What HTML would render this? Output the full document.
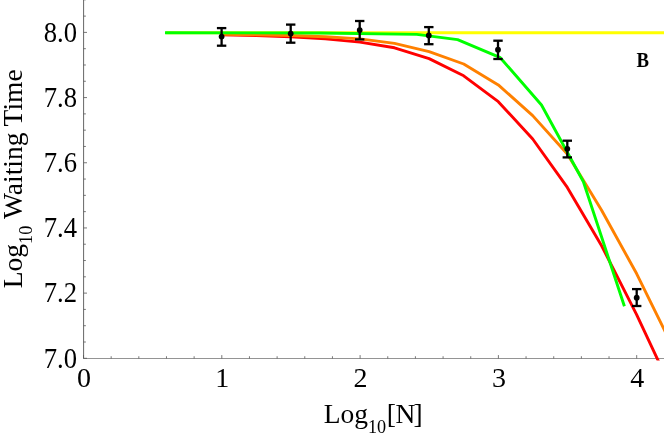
<!DOCTYPE html>
<html><head><meta charset="utf-8">
<style>
html,body{margin:0;padding:0;background:#fff;}
body{width:664px;height:438px;overflow:hidden;}
svg{display:block;will-change:transform;}
text{font-family:"Liberation Serif",serif;fill:#000;}
</style></head><body>
<svg width="664" height="438" viewBox="0 0 664 438">
<rect width="664" height="438" fill="#fff"/>
<g stroke="#555" stroke-width="0.9" fill="none">
<line x1="83.6" y1="0" x2="83.6" y2="358.5"/>
<line x1="83.15" y1="358.5" x2="664" y2="358.5" stroke="#888"/>
</g>
<g stroke="#555" stroke-width="0.8" fill="none">
<line x1="83.5" x2="83.5" y1="358.5" y2="355.1"/>
<line x1="111.16" x2="111.16" y1="358.5" y2="356.25"/>
<line x1="138.82" x2="138.82" y1="358.5" y2="356.25"/>
<line x1="166.48" x2="166.48" y1="358.5" y2="356.25"/>
<line x1="194.14" x2="194.14" y1="358.5" y2="356.25"/>
<line x1="221.8" x2="221.8" y1="358.5" y2="355.1"/>
<line x1="249.46" x2="249.46" y1="358.5" y2="356.25"/>
<line x1="277.12" x2="277.12" y1="358.5" y2="356.25"/>
<line x1="304.78" x2="304.78" y1="358.5" y2="356.25"/>
<line x1="332.44" x2="332.44" y1="358.5" y2="356.25"/>
<line x1="360.1" x2="360.1" y1="358.5" y2="355.1"/>
<line x1="387.76" x2="387.76" y1="358.5" y2="356.25"/>
<line x1="415.42" x2="415.42" y1="358.5" y2="356.25"/>
<line x1="443.08" x2="443.08" y1="358.5" y2="356.25"/>
<line x1="470.74" x2="470.74" y1="358.5" y2="356.25"/>
<line x1="498.4" x2="498.4" y1="358.5" y2="355.1"/>
<line x1="526.06" x2="526.06" y1="358.5" y2="356.25"/>
<line x1="553.72" x2="553.72" y1="358.5" y2="356.25"/>
<line x1="581.38" x2="581.38" y1="358.5" y2="356.25"/>
<line x1="609.04" x2="609.04" y1="358.5" y2="356.25"/>
<line x1="636.7" x2="636.7" y1="358.5" y2="355.1"/>
<line y1="-0.19" y2="-0.19" x1="83.6" x2="85.85"/>
<line y1="16.11" y2="16.11" x1="83.6" x2="85.85"/>
<line y1="32.4" y2="32.4" x1="83.6" x2="87"/>
<line y1="48.69" y2="48.69" x1="83.6" x2="85.85"/>
<line y1="64.99" y2="64.99" x1="83.6" x2="85.85"/>
<line y1="81.28" y2="81.28" x1="83.6" x2="85.85"/>
<line y1="97.58" y2="97.58" x1="83.6" x2="87"/>
<line y1="113.88" y2="113.88" x1="83.6" x2="85.85"/>
<line y1="130.17" y2="130.17" x1="83.6" x2="85.85"/>
<line y1="146.46" y2="146.46" x1="83.6" x2="85.85"/>
<line y1="162.76" y2="162.76" x1="83.6" x2="87"/>
<line y1="179.05" y2="179.05" x1="83.6" x2="85.85"/>
<line y1="195.35" y2="195.35" x1="83.6" x2="85.85"/>
<line y1="211.64" y2="211.64" x1="83.6" x2="85.85"/>
<line y1="227.94" y2="227.94" x1="83.6" x2="87"/>
<line y1="244.23" y2="244.23" x1="83.6" x2="85.85"/>
<line y1="260.53" y2="260.53" x1="83.6" x2="85.85"/>
<line y1="276.82" y2="276.82" x1="83.6" x2="85.85"/>
<line y1="293.12" y2="293.12" x1="83.6" x2="87"/>
<line y1="309.41" y2="309.41" x1="83.6" x2="85.85"/>
<line y1="325.71" y2="325.71" x1="83.6" x2="85.85"/>
<line y1="342" y2="342" x1="83.6" x2="85.85"/>
<line y1="358.3" y2="358.3" x1="83.6" x2="87"/>
</g>
<clipPath id="c"><rect x="0" y="0" width="664" height="360.4"/></clipPath>
<g fill="none" stroke-width="2.9" stroke-linejoin="round" stroke-linecap="butt" clip-path="url(#c)">
<polyline stroke="#ffff00" points="166,32.8 670,32.8"/>
<polyline stroke="#ff0000" points="221.6,34.8 256.2,35.6 290.7,36.8 325.3,38.9 359.9,42.1 394.5,47.8 429.1,58.6 463.7,75.8 498.3,101.7 532.7,139 567.3,187.4 601.6,245.8 636.5,314.3 660.7,366"/>
<polyline stroke="#ff8000" points="221.6,34.2 256.2,34.7 290.7,35.5 325.3,36.8 359.9,38.9 394.5,43.4 429.1,51.6 463.7,64 498.3,84.9 532.7,115.6 567.3,154 601.6,210.2 636.7,273.8 670,341.5"/>
<polyline stroke="#00ff00" points="165,32.8 320,32.95 416.7,34.4 457.6,39.6 500.3,57.7 541.5,105 583.4,181.7 624.4,306.3"/>
</g>
<g stroke="#000" stroke-width="2.3" fill="#000">
<line x1="221.6" x2="221.6" y1="28.1" y2="45.7"/>
<line x1="216.9" x2="226.3" y1="28.1" y2="28.1"/>
<line x1="216.9" x2="226.3" y1="45.7" y2="45.7"/>
<circle cx="221.6" cy="36.6" r="2.9" stroke="none"/>
<line x1="290.7" x2="290.7" y1="24.6" y2="42.7"/>
<line x1="286" x2="295.4" y1="24.6" y2="24.6"/>
<line x1="286" x2="295.4" y1="42.7" y2="42.7"/>
<circle cx="290.7" cy="33.6" r="2.9" stroke="none"/>
<line x1="359.7" x2="359.7" y1="21" y2="39.4"/>
<line x1="355" x2="364.4" y1="21" y2="21"/>
<line x1="355" x2="364.4" y1="39.4" y2="39.4"/>
<circle cx="359.7" cy="30.1" r="2.9" stroke="none"/>
<line x1="428.8" x2="428.8" y1="27.1" y2="44.2"/>
<line x1="424.1" x2="433.5" y1="27.1" y2="27.1"/>
<line x1="424.1" x2="433.5" y1="44.2" y2="44.2"/>
<circle cx="428.8" cy="35.4" r="2.9" stroke="none"/>
<line x1="498" x2="498" y1="40.7" y2="59"/>
<line x1="493.3" x2="502.7" y1="40.7" y2="40.7"/>
<line x1="493.3" x2="502.7" y1="59" y2="59"/>
<circle cx="498" cy="49.7" r="2.9" stroke="none"/>
<line x1="567.3" x2="567.3" y1="140.7" y2="157.4"/>
<line x1="562.6" x2="572" y1="140.7" y2="140.7"/>
<line x1="562.6" x2="572" y1="157.4" y2="157.4"/>
<circle cx="567.3" cy="148.8" r="2.9" stroke="none"/>
<line x1="636.7" x2="636.7" y1="289.1" y2="306"/>
<line x1="632" x2="641.4" y1="289.1" y2="289.1"/>
<line x1="632" x2="641.4" y1="306" y2="306"/>
<circle cx="636.7" cy="297.7" r="2.9" stroke="none"/>
</g>
<g font-size="28">
<text x="84" y="387.3" text-anchor="middle">0</text>
<text x="222.3" y="387.3" text-anchor="middle">1</text>
<text x="360.6" y="387.3" text-anchor="middle">2</text>
<text x="498.9" y="387.3" text-anchor="middle">3</text>
<text x="637.2" y="387.3" text-anchor="middle">4</text>
<text x="77" y="41.65" font-size="28.6" text-anchor="end" textLength="33.3" lengthAdjust="spacingAndGlyphs">8.0</text>
<text x="77" y="106.83" font-size="28.6" text-anchor="end" textLength="33.3" lengthAdjust="spacingAndGlyphs">7.8</text>
<text x="77" y="172.01" font-size="28.6" text-anchor="end" textLength="33.3" lengthAdjust="spacingAndGlyphs">7.6</text>
<text x="77" y="237.19" font-size="28.6" text-anchor="end" textLength="33.3" lengthAdjust="spacingAndGlyphs">7.4</text>
<text x="77" y="302.37" font-size="28.6" text-anchor="end" textLength="33.3" lengthAdjust="spacingAndGlyphs">7.2</text>
<text x="77" y="367.55" font-size="28.6" text-anchor="end" textLength="33.3" lengthAdjust="spacingAndGlyphs">7.0</text>
</g>
<text x="636.4" y="66.5" font-size="20" font-weight="bold" textLength="12.5" lengthAdjust="spacingAndGlyphs">B</text>
<text x="323.7" y="423.1" font-size="27.5">Log<tspan font-size="18.2" dy="10.2">10</tspan><tspan dy="-10.2" x="386.8 395.4 413.6">[N]</tspan></text>
<text transform="translate(22,288.2) rotate(-90)" font-size="27.5">Log<tspan font-size="18.2" dy="10.2">10</tspan></text>
<text transform="translate(22,218.9) rotate(-90)" font-size="27.5">Waiting</text>
<text transform="translate(22,126.4) rotate(-90)" font-size="27.5">Time</text>
</svg>
</body></html>
